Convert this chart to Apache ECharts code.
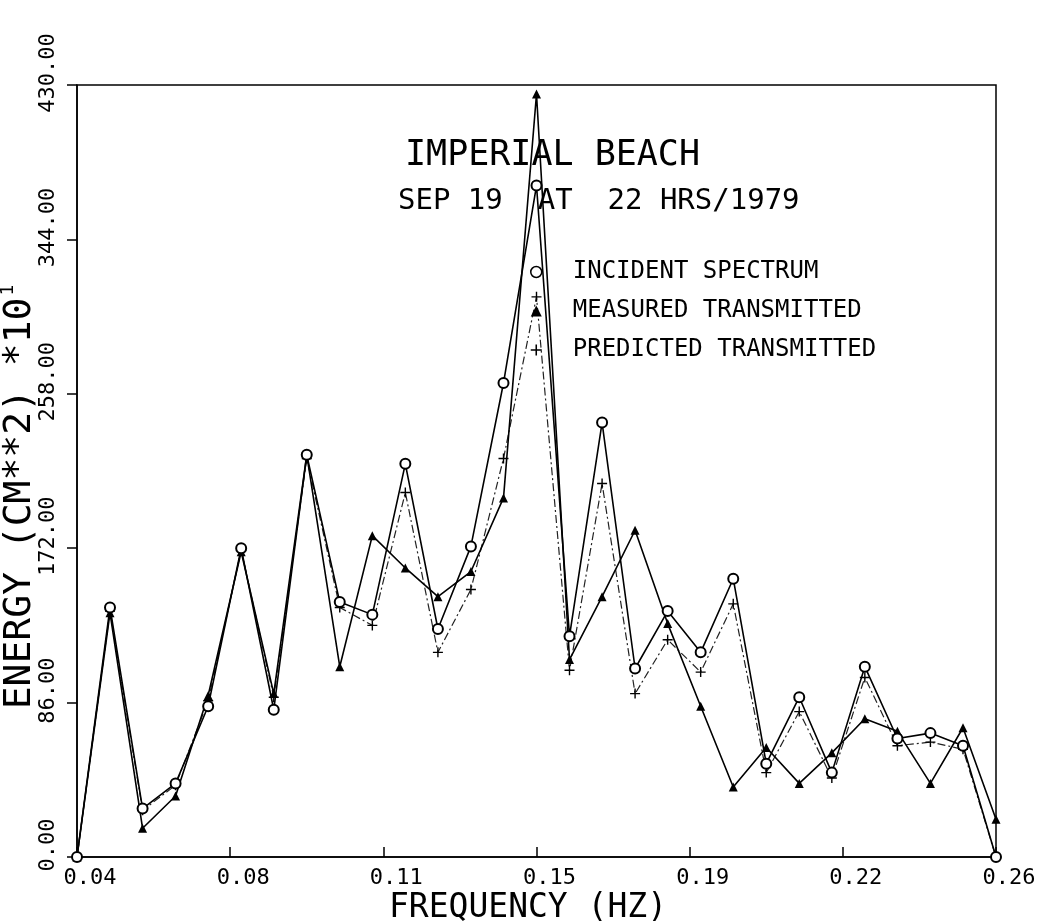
<!DOCTYPE html>
<html><head><meta charset="utf-8">
<script src="https://cdn.jsdelivr.net/npm/echarts@6/dist/echarts.min.js"></script>
<style>html,body{margin:0;padding:0;background:#fff}#c{width:1044px;height:924px}</style>
</head><body><div id="c"></div>
<script>
// Frequency (Hz) of each spectral estimate
const freq = [0.0400,0.0479,0.0557,0.0636,0.0714,0.0793,0.0871,0.0950,0.1029,0.1107,
              0.1186,0.1264,0.1343,0.1421,0.1500,0.1579,0.1657,0.1736,0.1814,0.1893,
              0.1971,0.2050,0.2129,0.2207,0.2286,0.2364,0.2443,0.2521,0.2600];
// Energy (CM**2)*10^1
const incident  = [0,139,27,41,84,172,82,224,142,135,219,127,173,264,374,123,242,105,137,114,155,52,89,47,106,66,69,62,0];
const measured  = [0,136,16,34,90,170,91,224,106,179,161,145,159,200,425,110,145,182,130,84,39,61,41,58,77,70,41,72,21];
const predicted = [0,137,26,40,87,171,89,222,139,129,203,114,149,222,312,104,208,91,121,103,141,47,81,44,100,62,64,60,0];

const seriesNames = ['INCIDENT SPECTRUM','MEASURED TRANSMITTED','PREDICTED TRANSMITTED'];
const xTickValues = [0.04, 0.0766667, 0.1133333, 0.15, 0.1866667, 0.2233333, 0.26];
const xTickLabels = ['0.04','0.08','0.11','0.15','0.19','0.22','0.26'];
const yTickLabels = ['0.00','86.00','172.00','258.00','344.00','430.00'];

const FONT = '"DejaVu Sans Mono", monospace';
const PLUS = 'path://M4.3,0H5.7V4.3H10V5.7H5.7V10H4.3V5.7H0V4.3H4.3Z';

function pairs(ys){ return freq.map((f,i)=>[f, ys[i]]); }

const chart = echarts.init(document.getElementById('c'), null, {renderer:'canvas'});
chart.setOption({
  backgroundColor:'#fff',
  animation:false,
  grid:{left:77, right:48, top:85, bottom:67, containLabel:false, outerBoundsMode:'none',
        show:true, borderColor:'#000', borderWidth:1.5, backgroundColor:'transparent'},
  xAxis:{
    type:'value', min:0.04, max:0.26,
    name:'FREQUENCY (HZ)', nameLocation:'middle', nameGap:35, nameMoveOverlap:false,
    nameTextStyle:{fontFamily:FONT, fontSize:33, color:'#000', padding:[0,17,0,0]},
    axisLine:{lineStyle:{color:'#000', width:1.5}},
    axisTick:{inside:true, length:10, lineStyle:{color:'#000', width:1.5}, customValues:xTickValues},
    axisLabel:{color:'#000', fontFamily:FONT, fontSize:22, margin:10, padding:[0,0,0,26],
      customValues:xTickValues,
      formatter:(v)=>{ let best=0; xTickValues.forEach((t,i)=>{ if(Math.abs(t-v)<Math.abs(xTickValues[best]-v)) best=i; }); return xTickLabels[best]; }},
    splitLine:{show:false}
  },
  yAxis:{
    type:'value', min:0, max:430, interval:86,
    name:'ENERGY (CM**2) *10{sup|1}', nameLocation:'middle', nameRotate:90, nameGap:36, nameMoveOverlap:false,
    nameTextStyle:{fontFamily:FONT, fontSize:38, color:'#000', padding:[0,52,0,0],
      rich:{sup:{fontFamily:FONT, fontSize:18, color:'#000', padding:[0,0,24,2]}}},
    axisLine:{lineStyle:{color:'#000', width:1.5}},
    axisTick:{inside:false, length:10, lineStyle:{color:'#000', width:1.5}},
    axisLabel:{color:'#000', fontFamily:FONT, fontSize:22, rotate:90, margin:18, padding:[0,0,0,24],
      formatter:(v)=>yTickLabels[Math.round(v/86)]},
    splitLine:{show:false}
  },
  legend:{
    orient:'vertical', left:530, top:260, padding:0, itemWidth:11, itemHeight:11, itemGap:15,
    textStyle:{fontFamily:FONT, fontSize:24, color:'#000', padding:[0,0,0,26]},
    data:[
      {name:seriesNames[0], icon:'circle', itemStyle:{color:'#fff', borderColor:'#000', borderWidth:1.5}},
      {name:seriesNames[1], icon:'triangle', itemStyle:{color:'#000'}},
      {name:seriesNames[2], icon:PLUS, itemStyle:{color:'#000'}}
    ]
  },
  graphic:[
    {type:'text', left:405, top:138, style:{text:'IMPERIAL BEACH', font:'35px '+FONT, fill:'#000'}},
    {type:'text', left:398, top:187, style:{text:'SEP 19  AT  22 HRS/1979', font:'29px '+FONT, fill:'#000'}}
  ],
  series:[
    {name:seriesNames[0], type:'line', data:pairs(incident), symbol:'emptyCircle', symbolSize:10,
     itemStyle:{color:'#000', borderWidth:1.5}, lineStyle:{color:'#000', width:1.6}, z:3},
    {name:seriesNames[1], type:'line', data:pairs(measured), symbol:'triangle', symbolSize:9,
     itemStyle:{color:'#000'}, lineStyle:{color:'#000', width:1.6}, z:2},
    {name:seriesNames[2], type:'line', data:pairs(predicted), symbol:PLUS, symbolSize:10,
     itemStyle:{color:'#000'}, lineStyle:{color:'#222', width:1.2, type:[8,3,2,3]}, z:1}
  ]
});
</script></body></html>
